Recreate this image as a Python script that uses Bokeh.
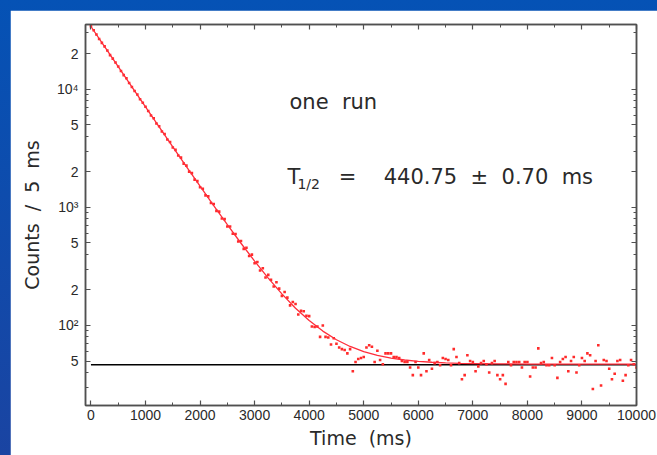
from bokeh.plotting import figure
from bokeh.models import Range1d, FixedTicker, LinearAxis, LogAxis, Label
from bokeh.layouts import column
from bokeh.embed import file_html
from bokeh.resources import INLINE

# ---------------- data ----------------
time_ms = list(range(0, 10001, 50))  # 50 ms bin grid

counts_decay = [34200, 31600, 29150, 26700, 24750, 23100, 21300, 19500, 18200, 16850,
                15600, 14300, 13200, 12400, 11300, 10450, 9680, 9050, 8240, 7700,
                7120, 6560, 6010, 5690, 5140, 4870, 4390, 4180, 3760, 3580,
                3220, 3070, 2750, 2640, 2350, 2260, 2010, 1950, 1720, 1670,
                1480, 1440, 1265, 1240, 1090, 1070, 935, 920, 805, 795,
                690, 688, 598, 596, 515, 520, 445, 455, 388, 398,
                336, 345, 292, 305, 255, 268, 244, 214, 232, 205,
                178, 192, 172, 148, 158, 152, 124]
counts_flat = [133, 132, 121, 120, 98, 97, 98, 80, 100, 80,
               79, 69, 78, 70, 65, 63, 62, 58, 63, 41,
               49, 52, 53, 54, 65, 68, 66, 49, 61, 51,
               47, 58, 58, 58, 54, 54, 53, 50, 49, 49,
               44, 38, 49, 44, 38, 58, 41, 51, 43, 48,
               49, 46, 53, 52, 51, 46, 63, 54, 48, 35,
               38, 56, 50, 49, 41, 45, 48, 50, 47, 40,
               48, 50, 38, 35, 38, 32, 49, 46, 49, 49,
               49, 44, 49, 49, 37, 44, 44, 64, 48, 49,
               46, 46, 53, 46, 36, 49, 52, 54, 41, 50,
               54, 40, 46, 53, 50, 58, 56, 29, 50, 68,
               31, 51, 50, 43, 35, 39, 50, 51, 34, 38,
               46, 51, 47, 44]
counts = counts_decay + counts_flat

fit_t = [0, 250, 500, 750, 1000, 1250, 1500, 1750, 2000, 2250, 2500, 2750,
         3000, 3250, 3500, 3750, 4000, 4250, 4500, 4750, 5000, 5250, 5500,
         5750, 6000, 6250, 6500, 6750, 7000, 7500, 8000, 9000, 10000]
fit_counts = [34047, 22995, 15535, 10501, 7103, 4809, 3261, 2216, 1511, 1035,
              714, 497, 351, 252, 185, 140, 110, 89.6, 75.7, 66.4, 60.1, 55.8,
              53.0, 51.0, 49.7, 48.8, 48.2, 47.8, 47.6, 47.3, 47.1, 47.0, 47.0]

bg_t = [0, 10000]
bg_counts = [46.5, 46.5]

x_ticks = [0, 1000, 2000, 3000, 4000, 5000, 6000, 7000, 8000, 9000, 10000]
x_minor = [500, 1500, 2500, 3500, 4500, 5500, 6500, 7500, 8500, 9500]
y_ticks = [50, 100, 200, 500, 1000, 2000, 5000, 10000, 20000]
y_tick_labels = ["5", "10²", "2", "5", "10³", "2", "5", "10⁴", "2"]
y_minor = [30, 40, 60, 70, 80, 90, 300, 400, 600, 700, 800, 900,
           3000, 4000, 6000, 7000, 8000, 9000, 30000]

# ---------------- figure ----------------
AX = "#505050"
TXT = "#2a2a2a"
SP = "\u00a0"

p = figure(width=647, height=445, x_range=Range1d(-100, 10000),
           y_range=Range1d(21, 35400), y_axis_type="log",
           output_backend="svg", toolbar_location=None,
           min_border_left=75, min_border_right=21,
           min_border_top=14, min_border_bottom=50,
           background_fill_color="white", border_fill_color="white")
p.margin = (10, 0, 0, 10)
p.xgrid.visible = False
p.ygrid.visible = False
p.outline_line_color = AX
p.outline_line_width = 1.5

bottom_axis = p.below[0]
left_axis = p.left[0]
top_axis = LinearAxis()
right_axis = LogAxis()
p.add_layout(top_axis, "above")
p.add_layout(right_axis, "right")

xt = FixedTicker(ticks=x_ticks, minor_ticks=x_minor)
yt = FixedTicker(ticks=y_ticks, minor_ticks=y_minor)

for ax in [bottom_axis, top_axis]:
    ax.ticker = xt
for ax in [left_axis, right_axis]:
    ax.ticker = yt

for ax in [bottom_axis, left_axis, top_axis, right_axis]:
    ax.major_tick_in = 5
    ax.major_tick_out = 0
    ax.minor_tick_in = 3
    ax.minor_tick_out = 0
    ax.axis_line_color = AX
    ax.axis_line_width = 1.5
    ax.major_tick_line_color = AX
    ax.minor_tick_line_color = AX
    ax.major_tick_line_width = 1.2
    ax.minor_tick_line_width = 1
    ax.major_label_text_font = "Liberation Sans"
    ax.major_label_text_font_size = "14px"
    ax.major_label_text_color = TXT

for ax in [top_axis, right_axis]:
    ax.major_label_text_font_size = "1px"
    ax.major_label_text_color = None
    ax.major_label_standoff = 0
    ax.axis_label = None

left_axis.major_label_overrides = {t: s for t, s in zip(y_ticks, y_tick_labels)}
left_axis.major_label_standoff = 7
left_axis.axis_label = f"Counts{SP}{SP}/{SP}{SP}5{SP}{SP}ms"
left_axis.axis_label_text_font = "DejaVu Sans"
left_axis.axis_label_text_font_size = "19px"
left_axis.axis_label_text_font_style = "normal"
left_axis.axis_label_text_color = TXT
left_axis.axis_label_standoff = 11

bottom_axis.major_label_standoff = 4
bottom_axis.axis_label = f"Time{SP}{SP}(ms)"
bottom_axis.axis_label_text_font = "DejaVu Sans"
bottom_axis.axis_label_text_font_size = "19px"
bottom_axis.axis_label_text_font_style = "normal"
bottom_axis.axis_label_text_color = TXT
bottom_axis.axis_label_standoff = 4

# ---------------- marks ----------------
p.line(bg_t, bg_counts, line_color="black", line_width=1.4)
p.scatter(time_ms, counts, marker="square", size=2.6,
          fill_color="#ff2b2b", line_color=None)
p.line(fit_t, fit_counts, line_color="#ff2d3a", line_width=1.3)

# ---------------- annotations ----------------
def lab(x, y, text, size):
    p.add_layout(Label(x=x, y=y, text=text, text_font="DejaVu Sans",
                       text_font_size=size, text_color=TXT,
                       text_baseline="alphabetic", text_align="left"))

lab(3639, 7746, f"one{SP}{SP}run", "21px")
lab(3602, 1805, "T", "21px")
lab(3785, 1587, "1/2", "14px")
lab(4540, 1805, "=", "21px")
lab(5367, 1805, f"440.75{SP}{SP}±{SP}{SP}0.70{SP}{SP}ms", "21px")

root = column(p, styles={"background": "linear-gradient(to bottom, #0552b5, #1a44a2)"})

open("out.html", "w").write(file_html(root, INLINE))
